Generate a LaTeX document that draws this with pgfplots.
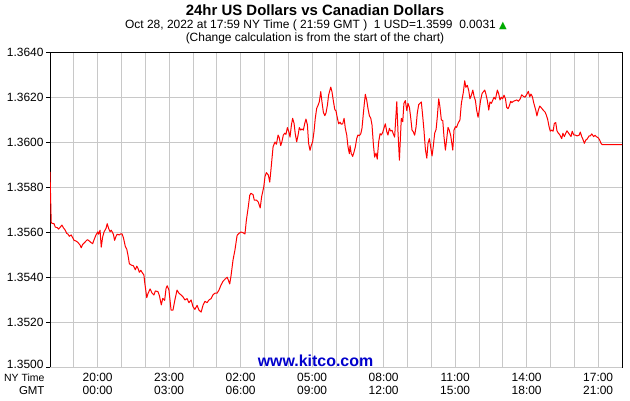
\documentclass[border=0pt]{standalone}
\usepackage{pgfplots}
\pgfplotsset{compat=1.18}
\usepackage{fontspec}
\setmainfont{Liberation Sans}
\newfontfamily\symfont{DejaVu Sans}
\definecolor{kgrid}{RGB}{200,200,200}
\definecolor{kblue}{RGB}{0,0,204}
\definecolor{kgreen}{RGB}{0,170,0}

% hours after 18:00 NY (22:00 GMT), USD/CAD
\pgfplotstableread{
h v
0.00 1.35867
0.05 1.35643
0.08 1.35639
0.17 1.35637
0.22 1.35622
0.31 1.35619
0.36 1.35613
0.45 1.35624
0.50 1.35631
0.56 1.35619
0.64 1.35608
0.70 1.35594
0.76 1.35590
0.81 1.35581
0.89 1.35587
0.95 1.35575
1.01 1.35563
1.09 1.35560
1.17 1.35554
1.26 1.35542
1.31 1.35530
1.37 1.35545
1.46 1.35554
1.51 1.35560
1.57 1.35566
1.65 1.35560
1.71 1.35554
1.79 1.35548
1.85 1.35566
1.93 1.35587
2.01 1.35601
2.04 1.35590
2.10 1.35608
2.15 1.35533
2.21 1.35578
2.27 1.35601
2.35 1.35616
2.40 1.35637
2.46 1.35616
2.52 1.35601
2.57 1.35608
2.66 1.35590
2.71 1.35563
2.77 1.35581
2.82 1.35590
2.91 1.35587
2.97 1.35592
3.02 1.35592
3.08 1.35575
3.16 1.35536
3.22 1.35524
3.27 1.35498
3.33 1.35459
3.41 1.35453
3.50 1.35450
3.58 1.35432
3.64 1.35448
3.69 1.35439
3.75 1.35421
3.81 1.35430
3.86 1.35421
3.94 1.35409
3.97 1.35379
4.06 1.35308
4.11 1.35326
4.20 1.35347
4.28 1.35329
4.36 1.35320
4.42 1.35338
4.53 1.35335
4.59 1.35317
4.67 1.35276
4.73 1.35305
4.81 1.35296
4.87 1.35350
4.92 1.35361
4.99 1.35342
5.08 1.35253
5.16 1.35253
5.24 1.35298
5.33 1.35342
5.41 1.35328
5.50 1.35320
5.58 1.35312
5.66 1.35298
5.75 1.35304
5.83 1.35286
5.92 1.35298
6.00 1.35268
6.08 1.35256
6.17 1.35274
6.25 1.35253
6.34 1.35244
6.42 1.35274
6.50 1.35292
6.59 1.35286
6.67 1.35298
6.76 1.35304
6.84 1.35321
6.92 1.35328
7.01 1.35328
7.09 1.35342
7.17 1.35363
7.26 1.35381
7.34 1.35390
7.43 1.35399
7.48 1.35387
7.54 1.35369
7.59 1.35401
7.68 1.35476
7.76 1.35520
7.85 1.35585
7.93 1.35594
8.01 1.35600
8.10 1.35597
8.18 1.35591
8.24 1.35653
8.32 1.35712
8.38 1.35763
8.43 1.35772
8.52 1.35766
8.57 1.35742
8.66 1.35742
8.74 1.35733
8.82 1.35707
8.88 1.35757
8.97 1.35801
9.02 1.35846
9.08 1.35864
9.16 1.35853
9.22 1.35822
9.27 1.35876
9.36 1.35979
9.44 1.36000
9.50 1.35990
9.57 1.36031
9.62 1.36019
9.68 1.35984
9.73 1.36001
9.79 1.36031
9.85 1.36039
9.90 1.36034
9.96 1.36064
10.02 1.36046
10.07 1.36022
10.13 1.36076
10.18 1.36105
10.24 1.36083
10.29 1.36037
10.35 1.36001
10.41 1.36031
10.46 1.36064
10.52 1.36053
10.57 1.36058
10.63 1.36053
10.69 1.36083
10.74 1.36102
10.80 1.36076
10.85 1.35994
10.91 1.35963
10.96 1.35984
11.02 1.36001
11.08 1.36049
11.13 1.36105
11.19 1.36150
11.24 1.36161
11.30 1.36179
11.36 1.36224
11.41 1.36179
11.47 1.36132
11.53 1.36117
11.58 1.36129
11.64 1.36164
11.69 1.36209
11.78 1.36244
11.83 1.36224
11.89 1.36182
11.95 1.36144
12.00 1.36138
12.06 1.36105
12.11 1.36081
12.17 1.36088
12.22 1.36079
12.28 1.36081
12.34 1.36105
12.39 1.36061
12.45 1.36031
12.50 1.35981
12.56 1.35948
12.59 1.35984
12.64 1.35948
12.70 1.35936
12.76 1.35957
12.81 1.35978
12.87 1.36016
12.92 1.36031
12.98 1.36028
13.04 1.36037
13.09 1.36061
13.17 1.36152
13.23 1.36212
13.29 1.36185
13.34 1.36150
13.40 1.36117
13.46 1.36105
13.51 1.36076
13.57 1.35987
13.62 1.35933
13.68 1.35951
13.73 1.35924
13.79 1.36001
13.85 1.36037
13.90 1.36031
13.96 1.36043
14.01 1.36061
14.07 1.36081
14.13 1.36046
14.18 1.36031
14.24 1.36061
14.29 1.36049
14.35 1.36052
14.40 1.36037
14.46 1.36022
14.55 1.36179
14.60 1.36046
14.66 1.35919
14.74 1.36105
14.80 1.36090
14.85 1.36172
14.91 1.36184
14.97 1.36139
15.02 1.36172
15.08 1.36154
15.13 1.36112
15.19 1.36053
15.24 1.36046
15.30 1.36030
15.36 1.36068
15.41 1.36128
15.47 1.36166
15.52 1.36172
15.58 1.36178
15.64 1.36112
15.69 1.36053
15.75 1.35968
15.81 1.35928
15.86 1.35994
15.92 1.36015
15.97 1.35979
16.03 1.35938
16.08 1.35979
16.14 1.36039
16.20 1.36056
16.25 1.36112
16.31 1.36192
16.36 1.36157
16.42 1.36098
16.48 1.36095
16.53 1.36024
16.59 1.35964
16.64 1.36009
16.70 1.36065
16.75 1.36053
16.81 1.36030
16.90 1.35964
16.95 1.36053
17.01 1.36068
17.06 1.36065
17.12 1.36083
17.20 1.36098
17.26 1.36172
17.34 1.36219
17.40 1.36272
17.45 1.36243
17.51 1.36252
17.57 1.36228
17.62 1.36192
17.68 1.36208
17.74 1.36231
17.79 1.36204
17.85 1.36184
17.90 1.36142
17.96 1.36110
18.01 1.36142
18.07 1.36187
18.13 1.36216
18.24 1.36231
18.29 1.36213
18.35 1.36184
18.41 1.36142
18.46 1.36178
18.52 1.36172
18.57 1.36184
18.63 1.36199
18.69 1.36190
18.77 1.36231
18.83 1.36213
18.88 1.36187
18.94 1.36199
18.99 1.36192
19.05 1.36208
19.11 1.36192
19.16 1.36154
19.22 1.36148
19.27 1.36160
19.33 1.36181
19.38 1.36175
19.44 1.36181
19.52 1.36184
19.59 1.36187
19.65 1.36181
19.73 1.36192
19.79 1.36210
19.85 1.36204
19.93 1.36199
20.01 1.36213
20.07 1.36225
20.13 1.36201
20.18 1.36213
20.24 1.36201
20.30 1.36172
20.38 1.36142
20.43 1.36116
20.49 1.36142
20.55 1.36160
20.60 1.36154
20.69 1.36142
20.77 1.36133
20.82 1.36121
20.88 1.36101
20.94 1.36068
20.99 1.36048
21.05 1.36053
21.11 1.36048
21.16 1.36083
21.22 1.36086
21.27 1.36050
21.33 1.36039
21.39 1.36032
21.47 1.36015
21.52 1.36039
21.58 1.36024
21.64 1.36039
21.69 1.36050
21.78 1.36036
21.86 1.36024
21.91 1.36048
21.97 1.36032
22.06 1.36030
22.11 1.36027
22.20 1.36030
22.25 1.36044
22.31 1.36024
22.36 1.36012
22.42 1.35994
22.48 1.36009
22.53 1.36012
22.62 1.36027
22.67 1.36027
22.73 1.36036
22.81 1.36024
22.87 1.36030
22.92 1.36024
23.01 1.36018
23.06 1.36009
23.12 1.35994
23.17 1.35988
24.00 1.35988
}\usdcad

\begin{document}
\begin{tikzpicture}[x=1bp,y=1bp]
\path[use as bounding box] (0,0) rectangle (630,400);

\node[font=\fontsize{15}{18}\selectfont\bfseries] at (315,390) {24hr US Dollars vs Canadian Dollars};
\node[font=\fontsize{12}{14}\selectfont] at (316,375) {Oct 28, 2022 at 17:59 NY Time ( 21:59 GMT )\ \ 1 USD=1.3599\ \ 0.0031 {\symfont\fontsize{10}{10}\selectfont\color{kgreen}▲}};
\node[font=\fontsize{12}{14}\selectfont] at (315,362) {(Change calculation is from the start of the chart)};

\begin{axis}[
    at={(50bp,33bp)}, anchor=south west,
    scale only axis,
    width=572bp, height=315bp,
    xmin=0, xmax=24,
    ymin=1.35, ymax=1.364,
    xtick={2,5,8,11,14,17,20,23},
    minor xtick={1,...,23},
    xticklabels={20:00\\00:00,23:00\\03:00,02:00\\06:00,05:00\\09:00,08:00\\12:00,11:00\\15:00,14:00\\18:00,17:00\\21:00},
    ytick={1.352,1.354,1.356,1.358,1.360,1.362,1.364},
    yticklabels={1.3520,1.3540,1.3560,1.3580,1.3600,1.3620,1.3640},
    extra y ticks={1.35},
    extra y tick labels={1.3500},
    extra y tick style={yticklabel style={yshift=2.5bp}},
    xmajorgrids, xminorgrids, ymajorgrids,
    grid style={draw=kgrid, line width=0.9bp},
    minor grid style={draw=kgrid, line width=0.9bp},
    axis line style={black, line width=0.9bp},
    tick pos=left,
    tick align=outside,
    major tick length=4bp,
    minor tick length=0bp,
    xtick style={draw=none},
    ytick style={black, line width=0.9bp},
    ticklabel style={font=\fontsize{12}{13}\selectfont},
    xticklabel style={align=center, yshift=1bp},
    yticklabel style={xshift=1bp},
]
\addplot[red, line width=1bp, line join=round] table[x=h, y=v] {\usdcad};
\node[font=\fontsize{16}{18}\selectfont\bfseries, text=kblue] at (axis cs:11.14,1.35027) {www.kitco.com};
\end{axis}

\node[font=\fontsize{10.5}{12}\selectfont, anchor=east] at (48,22.5) {NY Time};
\node[font=\fontsize{11.5}{12}\selectfont, anchor=east] at (48,9.5) {GMT};
\end{tikzpicture}
\end{document}
